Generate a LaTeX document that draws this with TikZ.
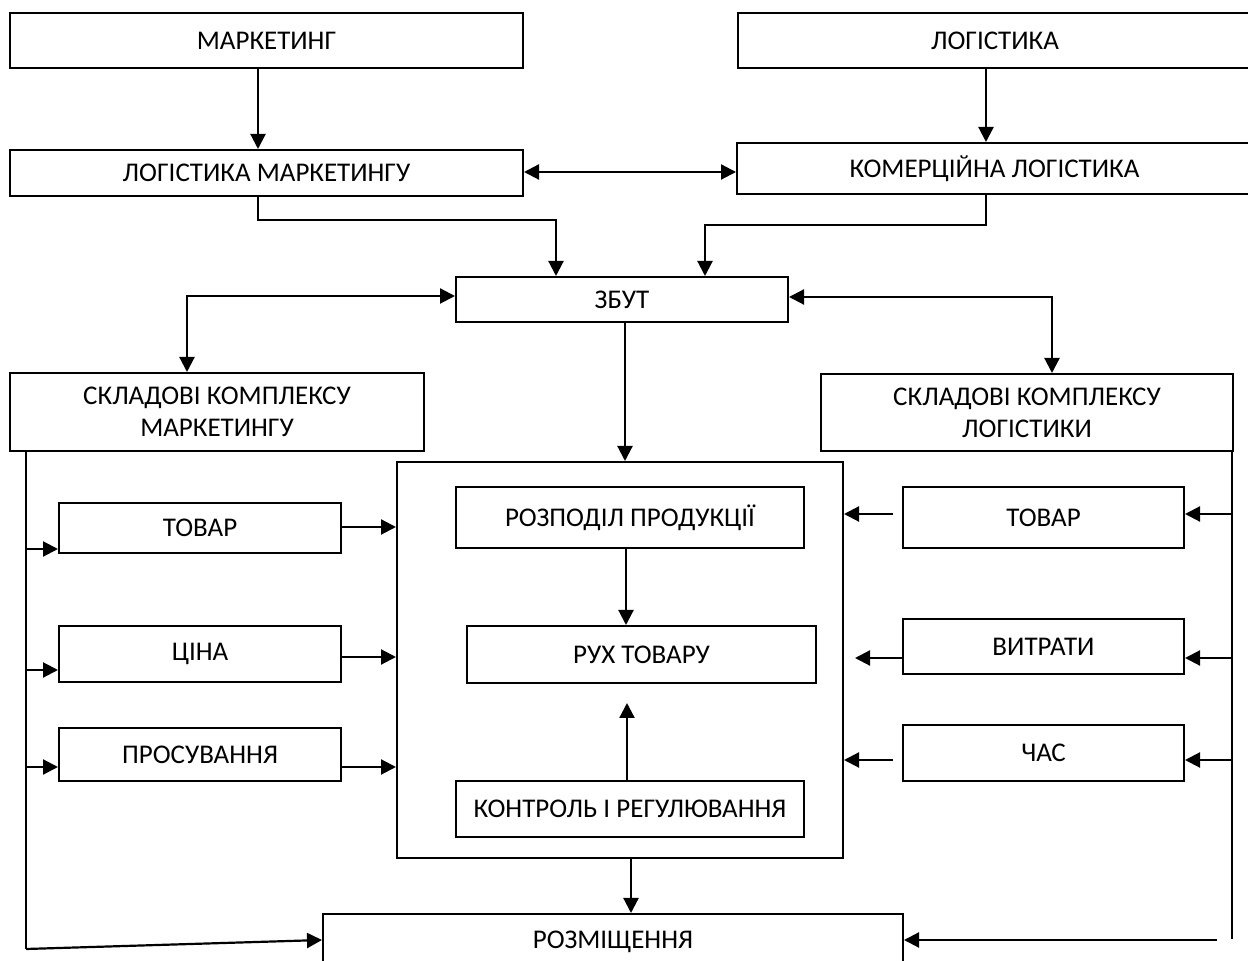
\documentclass[tikz,border=0pt]{standalone}
\usepackage{fontspec}
\setmainfont{Carlito}
\usetikzlibrary{arrows.meta}
\tikzset{
  box/.style={draw, line width=1pt, inner sep=0pt, align=center, font=\fontsize{13.5}{16}\selectfont},
  arr/.style={line width=1.1pt, -{Triangle[length=7.5pt,width=7.5pt]}},
  darr/.style={line width=1.1pt, {Triangle[length=7.5pt,width=7.5pt]}-{Triangle[length=7.5pt,width=7.5pt]}},
  ln/.style={line width=1.1pt}
}
\newcommand\mybox[6]{%
  \pgfmathsetmacro\bw{(#4-#2)*0.5}%
  \pgfmathsetmacro\bh{(#5-#3)*0.5}%
  \node[box, minimum width=\bw pt, minimum height=\bh pt] (#1) at ({(#2+#4)/2},{(#3+#5)/2}) {#6};}
\begin{document}
\begin{tikzpicture}[x=0.5pt,y=-0.5pt]
\useasboundingbox (0,0) rectangle (1248,961);
\fill[white] (0,0) rectangle (1248,961);
% boxes
\mybox{mark}{10}{13}{523}{68}{МАРКЕТИНГ}
\mybox{logi}{738}{13}{1252}{68}{ЛОГІСТИКА}
\mybox{logmark}{10}{150}{523}{196}{ЛОГІСТИКА МАРКЕТИНГУ}
\mybox{kom}{737}{143}{1252}{194}{КОМЕРЦІЙНА ЛОГІСТИКА}
\mybox{zbut}{456}{277}{788}{322}{ЗБУТ}
\mybox{skm}{10}{373}{424}{451}{СКЛАДОВІ КОМПЛЕКСУ\\МАРКЕТИНГУ}
\mybox{skl}{821}{374}{1233}{451}{СКЛАДОВІ КОМПЛЕКСУ\\ЛОГІСТИКИ}
\mybox{big}{397}{462}{843}{858}{}
\mybox{rozp}{456}{487}{804}{548}{РОЗПОДІЛ ПРОДУКЦІЇ}
\mybox{ruh}{467}{626}{816}{683}{РУХ ТОВАРУ}
\mybox{kontr}{456}{781}{804}{837}{КОНТРОЛЬ І РЕГУЛЮВАННЯ}
\mybox{tovl}{59}{503}{341}{553}{ТОВАР}
\mybox{cina}{59}{626}{341}{682}{ЦІНА}
\mybox{pros}{59}{728}{341}{781}{ПРОСУВАННЯ}
\mybox{tovr}{903}{487}{1184}{548}{ТОВАР}
\mybox{vytr}{903}{619}{1184}{674}{ВИТРАТИ}
\mybox{chas}{903}{725}{1184}{781}{ЧАС}
\mybox{rozm}{323}{914}{903}{970}{РОЗМІЩЕННЯ}
% helper coordinates
\coordinate (c258) at (258,0);
\coordinate (c986) at (986,0);
\coordinate (c556) at (556,220);
\coordinate (c705) at (705,225);
\coordinate (c187) at (187,296);
\coordinate (c1052) at (1052,297);
\coordinate (c625) at (625,0);
\coordinate (c626) at (626,0);
\coordinate (c627) at (627,703);
\coordinate (c631) at (631,0);
\coordinate (lv) at (26,0);
\coordinate (lvb) at (26,949);
\coordinate (rv) at (1232,0);
\coordinate (rvb) at (1232,939);
\coordinate (rgap) at (903,658);
\coordinate (rtip) at (855,658);
\coordinate (rs1) at (893,514);
\coordinate (rs3) at (893,760);
\coordinate (rb) at (1217,940);
% connectors
\draw[arr] (mark.south -| c258) -- (logmark.north -| c258);
\draw[arr] (logi.south -| c986) -- (kom.north -| c986);
\draw[darr] (logmark.east |- 0,172) -- (kom.west |- 0,172);
\draw[arr] (logmark.south -| c258) |- (c556) -- (zbut.north -| c556);
\draw[arr] (kom.south -| c986) |- (c705) -- (zbut.north -| c705);
\draw[darr] (skm.north -| c187) -- (c187) -- (zbut.west |- c187);
\draw[darr] (skl.north -| c1052) -- (c1052) -- (zbut.east |- c1052);
\draw[arr] (zbut.south -| c625) -- (big.north -| c625);
\draw[arr] (rozp.south -| c626) -- (ruh.north -| c626);
\draw[arr] (kontr.north -| c627) -- (c627);
\draw[arr] (big.south -| c631) -- (rozm.north -| c631);
% left side
\draw[ln] (skm.south -| lv) -- (lvb);
\draw[arr] (lvb) -- (rozm.west |- 0,940);
\draw[arr] (lv |- 0,549) -- (tovl.west |- 0,549);
\draw[arr] (lv |- 0,670) -- (cina.west |- 0,670);
\draw[arr] (lv |- 0,767) -- (pros.west |- 0,767);
\draw[arr] (tovl.east |- 0,527) -- (big.west |- 0,527);
\draw[arr] (cina.east |- 0,657) -- (big.west |- 0,657);
\draw[arr] (pros.east |- 0,767) -- (big.west |- 0,767);
% right side
\draw[ln] (skl.south -| rv) -- (rvb);
\draw[arr] (rb) -- (rozm.east |- rb);
\draw[arr] (rv |- rs1) -- (tovr.east |- rs1);
\draw[arr] (rv |- rgap) -- (vytr.east |- rgap);
\draw[arr] (rv |- rs3) -- (chas.east |- rs3);
\draw[arr] (rs1) -- (big.east |- rs1);
\draw[arr] (vytr.west |- rgap) -- (rtip);
\draw[arr] (rs3) -- (big.east |- rs3);
\end{tikzpicture}
\end{document}
